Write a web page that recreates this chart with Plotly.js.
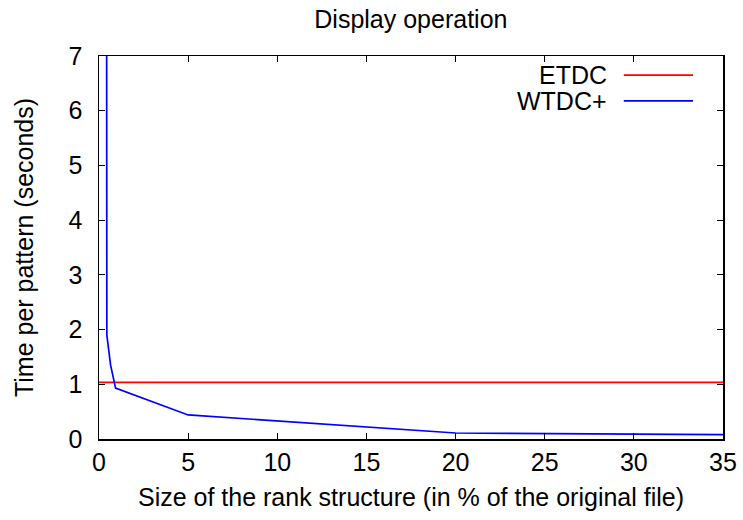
<!DOCTYPE html>
<html>
<head>
<meta charset="utf-8">
<script src="https://cdn.plot.ly/plotly-3.0.1.min.js"></script>
<style>html,body{margin:0;padding:0;background:#fff;}#chart{width:743px;height:520px;}</style>
</head>
<body>
<div id="chart"></div>
<script>
const seriesNames = ["ETDC", "WTDC+"];
const etdcX = [0, 35];
const etdcY = [1.035, 1.035];
const wtdcX = [0.42, 0.44, 0.65, 0.93, 5, 20, 30, 35];
const wtdcY = [12, 1.9, 1.35, 0.93, 0.44, 0.11, 0.09, 0.08];
const xTicks = [0, 5, 10, 15, 20, 25, 30, 35];
const yTicks = [0, 1, 2, 3, 4, 5, 6, 7];

const font = {family: "Liberation Sans, Arial, sans-serif", size: 25, color: "#000"};
const colors = ["#ff0000", "#0000ff"];

const traces = [
  {x: etdcX, y: etdcY, mode: "lines", name: seriesNames[0], line: {color: colors[0], width: 1.7}, showlegend: false},
  {x: wtdcX, y: wtdcY, mode: "lines", name: seriesNames[1], line: {color: colors[1], width: 1.7}, showlegend: false}
];

const axisCommon = {
  showgrid: false, zeroline: false, showline: true, linecolor: "#000", linewidth: 1.5,
  mirror: "allticks", ticks: "inside", ticklen: 6, tickcolor: "#000", tickwidth: 1,
  tickfont: font
};

const legendRows = [0.950, 0.883];
const annotations = seriesNames.map((n, i) => ({
  xref: "paper", yref: "paper", x: 0.818, y: legendRows[i], xanchor: "right", yanchor: "middle",
  text: n, showarrow: false, font: font
}));
const shapes = seriesNames.map((n, i) => ({
  type: "line", xref: "paper", yref: "paper", x0: 0.841, x1: 0.952, y0: legendRows[i], y1: legendRows[i],
  line: {color: colors[i], width: 1.7}
}));

const layout = {
  width: 743, height: 520,
  margin: {l: 99, r: 20, t: 56, b: 81},
  paper_bgcolor: "#fff", plot_bgcolor: "#fff",
  font: font,
  title: {text: "Display operation", font: font, x: 0.553, xanchor: "center", y: 0.963, yanchor: "middle"},
  xaxis: Object.assign({}, axisCommon, {range: [0, 35], tickvals: xTicks, ticktext: xTicks.map(String), ticklabelstandoff: 0,
    title: {text: "Size of the rank structure (in % of the original file)", font: font, standoff: 14}}),
  yaxis: Object.assign({}, axisCommon, {range: [0, 7], tickvals: yTicks, ticktext: yTicks.map(String), ticklabelstandoff: 10,
    title: {text: "Time per pattern (seconds)", font: font, standoff: 28}}),
  annotations: annotations,
  shapes: shapes,
  showlegend: false
};

Plotly.newPlot("chart", traces, layout, {staticPlot: true, displayModeBar: false});
</script>
</body>
</html>
